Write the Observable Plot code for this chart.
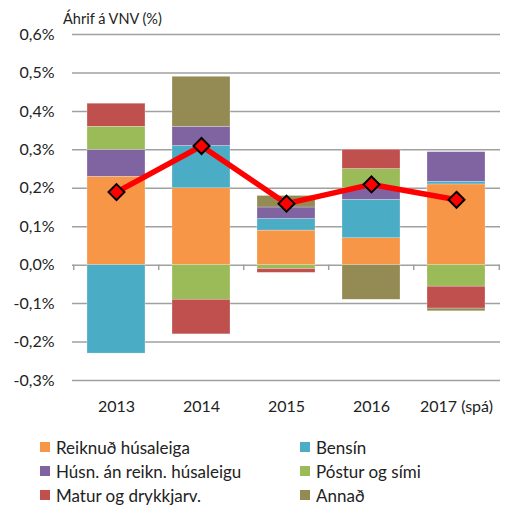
<!DOCTYPE html>
<html>
<head>
<meta charset="utf-8">
<script src="https://cdn.jsdelivr.net/npm/d3@7"></script>
<script src="https://cdn.jsdelivr.net/npm/@observablehq/plot@0.6"></script>
<style>
  body { margin: 0; background: #fff; font-family: Lato, "Open Sans", sans-serif; color: #222; }
  #wrap { position: relative; width: 507px; height: 505px; }
  #title { position: absolute; left: 63px; top: 12px; font-size: 14.5px; line-height: 14px; }
  #chart { position: absolute; left: 0; top: 0; }
  #legend { position: absolute; left: 40px; top: 435px; display: grid; grid-template-columns: 260px 200px; row-gap: 0; }
  .item { display: flex; align-items: center; height: 24px; font-size: 17px; }
  .sw { width: 10px; height: 10px; margin-right: 6px; flex: none; }
</style>
</head>
<body>
<div id="wrap">
  <div id="chart"></div>
  <div id="title">Áhrif á VNV (%)</div>
  <div id="legend"></div>
</div>
<script>
const years = ["2013", "2014", "2015", "2016", "2017 (spá)"];
const seriesNames = ["Reiknuð húsaleiga", "Bensín", "Húsn. án reikn. húsaleigu", "Póstur og sími", "Matur og drykkjarv.", "Annað"];
const seriesColors = ["#F79646", "#4BACC6", "#8064A2", "#9BBB59", "#C0504D", "#948A54"];
const reiknud = [0.23, 0.20, 0.09, 0.07, 0.21];
const bensin = [-0.23, 0.11, 0.03, 0.10, 0.007];
const husn = [0.07, 0.05, 0.03, 0.03, 0.077];
const postur = [0.06, -0.09, -0.01, 0.05, -0.056];
const matur = [0.06, -0.09, -0.01, 0.05, -0.057];
const annad = [0, 0.13, 0.03, -0.09, -0.007];
const total = [0.19, 0.31, 0.16, 0.21, 0.17];
const yTicks = [-0.3, -0.2, -0.1, 0, 0.1, 0.2, 0.3, 0.4, 0.5, 0.6];

const seriesValues = [reiknud, bensin, husn, postur, matur, annad];
const rows = [];
seriesNames.forEach((s, i) => years.forEach((y, j) => rows.push({year: y, series: s, value: seriesValues[i][j]})));
const totals = years.map((y, j) => ({year: y, value: total[j]}));

const W = 507, H = 425, mL = 72, mR = 7;
const step = (W - mL - mR) / years.length;
const fmt = d => d3.format(".1f")(d).replace(".", ",").replace("−", "-") + "%";

const chart = Plot.plot({
  width: W,
  height: H,
  marginLeft: mL,
  marginRight: mR,
  marginTop: 34,
  marginBottom: 45,
  style: {fontFamily: "Lato, sans-serif", fontSize: "16px", color: "#222", background: "transparent"},
  x: {domain: years, paddingInner: 0.315, paddingOuter: 0.1575, label: null, tickSize: 0, tickPadding: 20},
  y: {domain: [-0.3, 0.6], ticks: yTicks, tickFormat: fmt, label: null, tickSize: 0, tickPadding: 18},
  color: {domain: seriesNames, range: seriesColors},
  marks: [
    Plot.ruleY(yTicks, {stroke: "#a0a0a0", strokeWidth: 1.5}),
    Plot.barY(rows, {x: "year", y: "value", fill: "series", z: "series", order: seriesNames, stroke: "#fff", strokeOpacity: 0.5, strokeWidth: 0.5}),
    Plot.ruleX(years, {x: d => d, y1: 0, y2: -0.014, dx: -step / 2, stroke: "#a0a0a0", strokeWidth: 1.5}),
    Plot.ruleX(years.slice(-1), {x: d => d, y1: 0, y2: -0.014, dx: step / 2, stroke: "#a0a0a0", strokeWidth: 1.5}),
    Plot.line(totals, {x: "year", y: "value", stroke: "#ff0000", strokeWidth: 5.5}),
    Plot.dot(totals, {x: "year", y: "value", symbol: "diamond2", r: 7.2, fill: "#ff0000", stroke: "#000", strokeWidth: 2})
  ]
});
document.getElementById("chart").appendChild(chart);

const legend = document.getElementById("legend");
seriesNames.forEach((name, i) => {
  const it = document.createElement("div");
  it.className = "item";
  const sw = document.createElement("span");
  sw.className = "sw";
  sw.style.background = seriesColors[i];
  it.appendChild(sw);
  it.appendChild(document.createTextNode(name));
  legend.appendChild(it);
});
</script>
</body>
</html>
